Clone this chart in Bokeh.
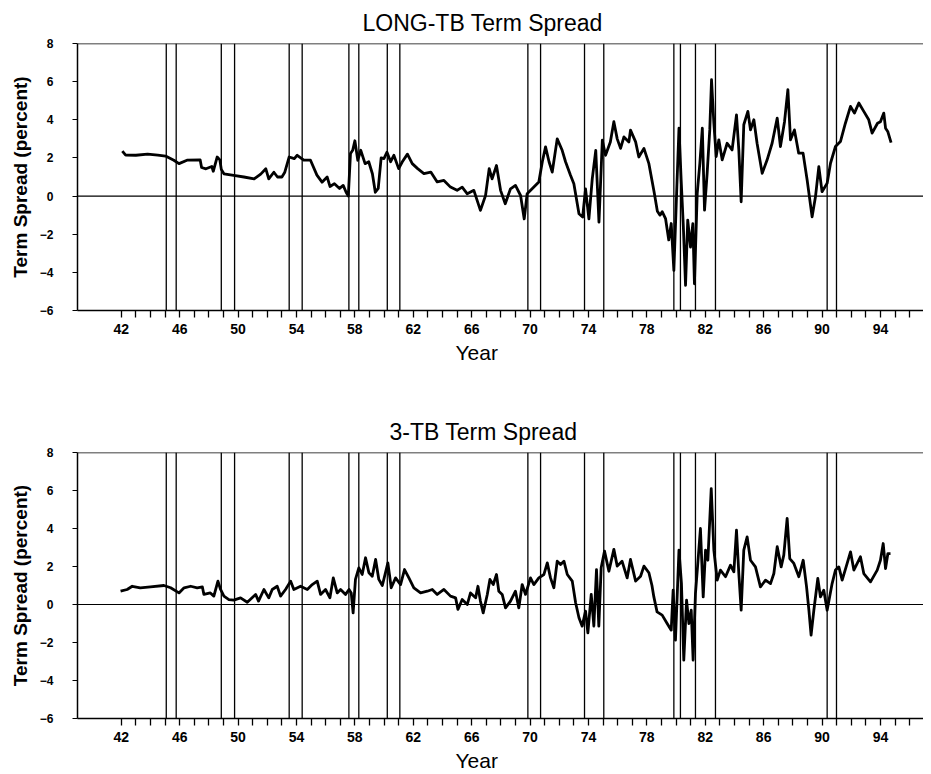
from bokeh.plotting import figure
from bokeh.models import Span, Title, FixedTicker, Range1d
from bokeh.layouts import column
from bokeh.embed import file_html
from bokeh.resources import INLINE

# ---------------- data ----------------
long_year = [1942.07, 1942.3, 1943.0, 1943.8, 1944.5, 1945.03, 1945.6, 1945.95, 1946.5, 1947.4,
             1947.5, 1947.8, 1948.2, 1948.3, 1948.57, 1948.75, 1948.85, 1949.03, 1949.7, 1950.4,
             1951.1, 1951.55, 1951.9, 1952.1, 1952.45, 1952.7, 1953.0, 1953.2, 1953.5, 1953.85,
             1954.05, 1954.5, 1954.96, 1955.4, 1955.75, 1956.1, 1956.3, 1956.6, 1956.95, 1957.2,
             1957.4, 1957.55, 1957.7, 1957.85, 1958.0, 1958.2, 1958.4, 1958.7, 1958.95, 1959.2,
             1959.4, 1959.6, 1959.8, 1959.99, 1960.2, 1960.45, 1960.67, 1961.0, 1961.25, 1961.6,
             1961.93, 1962.3, 1962.73, 1963.2, 1963.64, 1964.1, 1964.55, 1965.0, 1965.35, 1965.7,
             1966.15, 1966.6, 1966.95, 1967.2, 1967.4, 1967.7, 1967.98, 1968.3, 1968.66, 1969.0,
             1969.35, 1969.6, 1969.8, 1970.26, 1970.6, 1970.84, 1971.06, 1971.3, 1971.52, 1971.86,
             1972.2, 1972.43, 1972.77, 1973.0, 1973.35, 1973.6, 1973.8, 1974.03, 1974.26, 1974.5,
             1974.72, 1974.95, 1975.17, 1975.5, 1975.74, 1975.97, 1976.2, 1976.43, 1976.77, 1976.88,
             1977.23, 1977.45, 1977.8, 1978.14, 1978.5, 1978.72, 1978.9, 1979.05, 1979.28, 1979.5,
             1979.67, 1979.85, 1980.03, 1980.2, 1980.35, 1980.5, 1980.65, 1980.8, 1980.99, 1981.15,
             1981.26, 1981.45, 1981.63, 1981.8, 1981.95, 1982.13, 1982.31, 1982.43, 1982.59, 1982.75,
             1982.93, 1983.16, 1983.5, 1983.84, 1984.14, 1984.3, 1984.46, 1984.64, 1984.92, 1985.1,
             1985.33, 1985.55, 1985.9, 1986.24, 1986.58, 1986.93, 1987.15, 1987.43, 1987.66, 1987.84,
             1988.11, 1988.4, 1988.7, 1988.98, 1989.32, 1989.55, 1989.78, 1990.0, 1990.35, 1990.58,
             1990.92, 1991.26, 1991.6, 1991.95, 1992.22, 1992.52, 1992.86, 1993.2, 1993.43, 1993.8,
             1994.0, 1994.23, 1994.35, 1994.5, 1994.73]
long_val = [2.36, 2.15, 2.14, 2.2, 2.15, 2.1, 1.88, 1.7, 1.88, 1.9,
            1.5, 1.43, 1.55, 1.3, 2.05, 1.9, 1.4, 1.17, 1.08, 1.0,
            0.9, 1.15, 1.43, 0.9, 1.25, 1.0, 1.0, 1.25, 2.05, 1.96,
            2.14, 1.88, 1.88, 1.1, 0.73, 1.0, 0.5, 0.65, 0.4, 0.56,
            0.2, 0.0, 2.23, 2.4, 2.9, 1.88, 2.4, 1.7, 1.8, 1.17,
            0.2, 0.4, 2.0, 1.96, 2.3, 1.8, 2.14, 1.44, 1.8, 2.2,
            1.7, 1.44, 1.18, 1.26, 0.74, 0.82, 0.47, 0.3, 0.47, 0.12,
            0.3, -0.75, 0.03, 1.44, 0.9, 1.6, 0.3, -0.4, 0.38, 0.56,
            0.03, -1.2, 0.12, 0.47, 0.74, 1.8, 2.58, 1.8, 1.26, 3.0,
            2.4, 1.8, 1.09, 0.65, -0.93, -1.1, 0.38, -1.2, 0.9, 2.4,
            -1.37, 2.93, 2.14, 2.84, 3.9, 3.0, 2.5, 3.1, 2.84, 3.46,
            2.84, 2.05, 2.5, 1.7, 0.2, -0.8, -1.0, -0.82, -1.18, -2.3,
            -1.44, -3.9, -0.04, 3.56, 0.84, -1.6, -4.68, -1.26, -2.67, -1.44,
            -4.6, 0.14, 1.72, 3.56, -0.74, 1.19, 3.47, 6.1, 3.82, 2.07,
            2.95, 1.9, 2.77, 2.42, 4.26, 2.42, -0.3, 3.74, 4.44, 3.47,
            4.0, 2.77, 1.19, 1.9, 2.77, 4.09, 2.6, 3.9, 5.58, 2.95,
            3.47, 2.25, 2.25, 0.84, -1.09, -0.04, 1.54, 0.23, 0.67, 1.72,
            2.6, 2.86, 3.82, 4.7, 4.35, 4.88, 4.44, 4.0, 3.3, 3.82,
            3.9, 4.35, 3.56, 3.39, 2.8]

three_year = [1941.95, 1942.4, 1942.75, 1943.3, 1944.0, 1944.92, 1945.38, 1945.95, 1946.3, 1946.75,
              1947.2, 1947.55, 1947.66, 1948.1, 1948.34, 1948.62, 1948.8, 1949.03, 1949.37, 1949.7,
              1950.17, 1950.63, 1951.2, 1951.4, 1951.77, 1952.1, 1952.34, 1952.68, 1952.91, 1953.25,
              1953.6, 1953.82, 1954.28, 1954.74, 1955.08, 1955.42, 1955.65, 1955.99, 1956.29, 1956.52,
              1956.79, 1957.02, 1957.36, 1957.6, 1957.75, 1957.88, 1958.04, 1958.27, 1958.5, 1958.73,
              1958.96, 1959.19, 1959.42, 1959.64, 1959.88, 1960.26, 1960.49, 1960.79, 1961.13, 1961.4,
              1961.7, 1962.04, 1962.5, 1962.96, 1963.3, 1963.64, 1964.1, 1964.55, 1964.9, 1965.06,
              1965.35, 1965.7, 1965.92, 1966.27, 1966.43, 1966.6, 1966.79, 1967.07, 1967.25, 1967.48,
              1967.7, 1967.86, 1968.09, 1968.32, 1968.66, 1969.0, 1969.23, 1969.46, 1969.69, 1970.03,
              1970.26, 1970.6, 1970.95, 1971.18, 1971.4, 1971.63, 1971.86, 1972.09, 1972.32, 1972.55,
              1972.89, 1973.12, 1973.35, 1973.57, 1973.8, 1973.96, 1974.19, 1974.37, 1974.55, 1974.71,
              1974.87, 1975.1, 1975.4, 1975.74, 1975.97, 1976.3, 1976.65, 1976.88, 1977.23, 1977.57,
              1977.8, 1978.14, 1978.35, 1978.48, 1978.7, 1979.05, 1979.39, 1979.67, 1979.8, 1979.96,
              1980.2, 1980.37, 1980.53, 1980.72, 1980.88, 1981.04, 1981.17, 1981.33, 1981.49, 1981.67,
              1981.86, 1982.02, 1982.18, 1982.41, 1982.59, 1982.82, 1983.04, 1983.39, 1983.73, 1983.96,
              1984.14, 1984.3, 1984.46, 1984.64, 1984.87, 1985.1, 1985.44, 1985.78, 1986.13, 1986.47,
              1986.7, 1986.93, 1987.2, 1987.38, 1987.61, 1987.79, 1988.07, 1988.41, 1988.71, 1988.94,
              1989.1, 1989.25, 1989.44, 1989.71, 1989.89, 1990.12, 1990.35, 1990.69, 1990.92, 1991.15,
              1991.38, 1991.72, 1991.95, 1992.18, 1992.63, 1992.86, 1993.32, 1993.78, 1994.0, 1994.19,
              1994.35, 1994.51, 1994.69]
three_val = [0.7, 0.79, 0.96, 0.88, 0.93, 1.0, 0.88, 0.61, 0.88, 0.96,
             0.88, 0.93, 0.53, 0.61, 0.44, 1.23, 0.79, 0.44, 0.26, 0.23,
             0.35, 0.12, 0.53, 0.18, 0.79, 0.35, 0.79, 0.96, 0.44, 0.79,
             1.23, 0.79, 0.96, 0.79, 1.05, 1.23, 0.53, 0.79, 0.35, 1.4,
             0.61, 0.79, 0.53, 0.79, 0.61, -0.44, 1.32, 1.93, 1.58, 2.46,
             1.67, 1.49, 2.37, 1.32, 1.0, 2.19, 0.88, 1.4, 1.05, 1.84,
             1.4, 0.88, 0.61, 0.7, 0.79, 0.53, 0.79, 0.44, 0.35, -0.26,
             0.26, 0.0, 0.61, 0.35, 0.96, 0.18, -0.44, 0.53, 1.32, 1.05,
             1.58, 0.7, 0.53, -0.18, 0.18, 0.7, -0.18, 1.05, 0.53, 1.4,
             1.05, 1.4, 1.58, 2.19, 1.4, 0.88, 2.28, 2.1, 2.28, 1.58,
             1.23, 0.09, -0.7, -1.14, -0.35, -1.49, 0.53, -1.14, 1.84, -1.14,
             1.93, 2.81, 1.75, 2.9, 2.02, 2.28, 1.4, 2.37, 1.23, 1.49,
             2.02, 1.67, 1.0, 0.4, -0.39, -0.56, -1.0, -1.35, 0.75, -1.88,
             2.86, 1.1, -2.93, 0.23, -1.0, -0.3, -2.93, 0.58, 2.16, 4.0,
             0.4, 2.86, 2.33, 6.1, 2.86, 1.28, 1.81, 1.46, 2.07, 1.72,
             3.91, 1.63, -0.3, 2.86, 3.56, 2.33, 1.98, 0.93, 1.28, 1.1,
             1.63, 3.04, 1.98, 2.6, 4.53, 2.42, 2.16, 1.46, 2.33, 0.93,
             -0.3, -1.61, -0.3, 1.37, 0.4, 0.75, -0.3, 1.1, 1.81, 1.98,
             1.28, 2.16, 2.77, 1.81, 2.51, 1.63, 1.19, 1.81, 2.33, 3.21,
             1.89, 2.68, 2.68]

# recession peak / trough dates (vertical lines)
recession_dates = [1945.08, 1945.76, 1948.85, 1949.76, 1953.5, 1954.39, 1957.59, 1958.27,
                   1960.22, 1961.08, 1969.85, 1970.72, 1973.73, 1975.05, 1979.85, 1980.3,
                   1981.33, 1982.7, 1990.35, 1990.99]

tick_years = list(range(1942, 1997))
label_years = [1942, 1946, 1950, 1954, 1958, 1962, 1966, 1970, 1974, 1978, 1982, 1986, 1990, 1994]
label_texts = ["42", "46", "50", "54", "58", "62", "66", "70", "74", "78", "82", "86", "90", "94"]
y_ticks = [-6, -4, -2, 0, 2, 4, 6, 8]

FONT = "Liberation Sans"


def make_panel(title, title_offset, xs, ys, border_top, border_bottom, frame_h):
    p = figure(frame_width=846, frame_height=frame_h,
               x_range=Range1d(1939.0, 1996.95), y_range=Range1d(-6, 8),
               output_backend="svg", toolbar_location=None,
               min_border_left=77, min_border_right=0,
               min_border_top=border_top, min_border_bottom=border_bottom)
    p.outline_line_color = None
    p.xgrid.visible = False
    p.ygrid.visible = False
    p.background_fill_color = "white"
    p.border_fill_color = "white"

    # title
    p.title.text = title
    p.title.align = "left"
    p.title.offset = title_offset
    p.title.text_font = FONT
    p.title.text_font_size = "23px"
    p.title.text_font_style = "normal"
    p.title.text_color = "black"
    p.title.standoff = 15

    # x axis
    xa = p.xaxis[0]
    xa.ticker = FixedTicker(ticks=tick_years)
    overrides = {y: "" for y in tick_years}
    for y, t in zip(label_years, label_texts):
        overrides[y] = t
    xa.major_label_overrides = overrides
    xa.major_tick_in = 0
    xa.major_tick_out = 7
    xa.minor_tick_line_color = None
    xa.major_label_standoff = 6
    xa.major_label_text_font = FONT
    xa.major_label_text_font_size = "14px"
    xa.major_label_text_font_style = "bold"
    xa.major_label_text_color = "black"
    xa.axis_line_width = 1.5
    xa.major_tick_line_width = 1.3

    # y axis
    ya = p.yaxis[0]
    ya.ticker = FixedTicker(ticks=y_ticks)
    ya.major_tick_in = 0
    ya.major_tick_out = 5
    ya.minor_tick_line_color = None
    ya.major_label_standoff = 19
    ya.major_label_text_font = FONT
    ya.major_label_text_font_size = "12px"
    ya.major_label_text_font_style = "bold"
    ya.major_label_text_color = "black"
    ya.axis_label = "Term Spread (percent)"
    ya.axis_label_text_font = FONT
    ya.axis_label_text_font_size = "19px"
    ya.axis_label_text_font_style = "bold"
    ya.axis_label_text_color = "black"
    ya.axis_label_standoff = 6
    ya.axis_line_width = 1.5

    # "Year" label
    yt = Title(text="Year", align="left", offset=378, text_font=FONT,
               text_font_size="21px", text_font_style="normal", text_color="black",
               standoff=5)
    p.add_layout(yt, "below")

    # frame top border and zero line
    p.add_layout(Span(location=8, dimension="width", line_color="black", line_width=1.5))
    p.add_layout(Span(location=0, dimension="width", line_color="black", line_width=1.2))

    # recession lines
    for d in recession_dates:
        p.add_layout(Span(location=d, dimension="height", line_color="black", line_width=1.3))

    p.line(xs, ys, line_color="black", line_width=2.8, line_join="round")
    return p


p1 = make_panel("LONG-TB Term Spread", 285, long_year, long_val, 41, 73, 267)
p2 = make_panel("3-TB Term Spread", 312, three_year, three_val, 69, 52, 266)

layout = column(p1, p2, spacing=0)
open("out.html", "w").write(file_html(layout, INLINE))
